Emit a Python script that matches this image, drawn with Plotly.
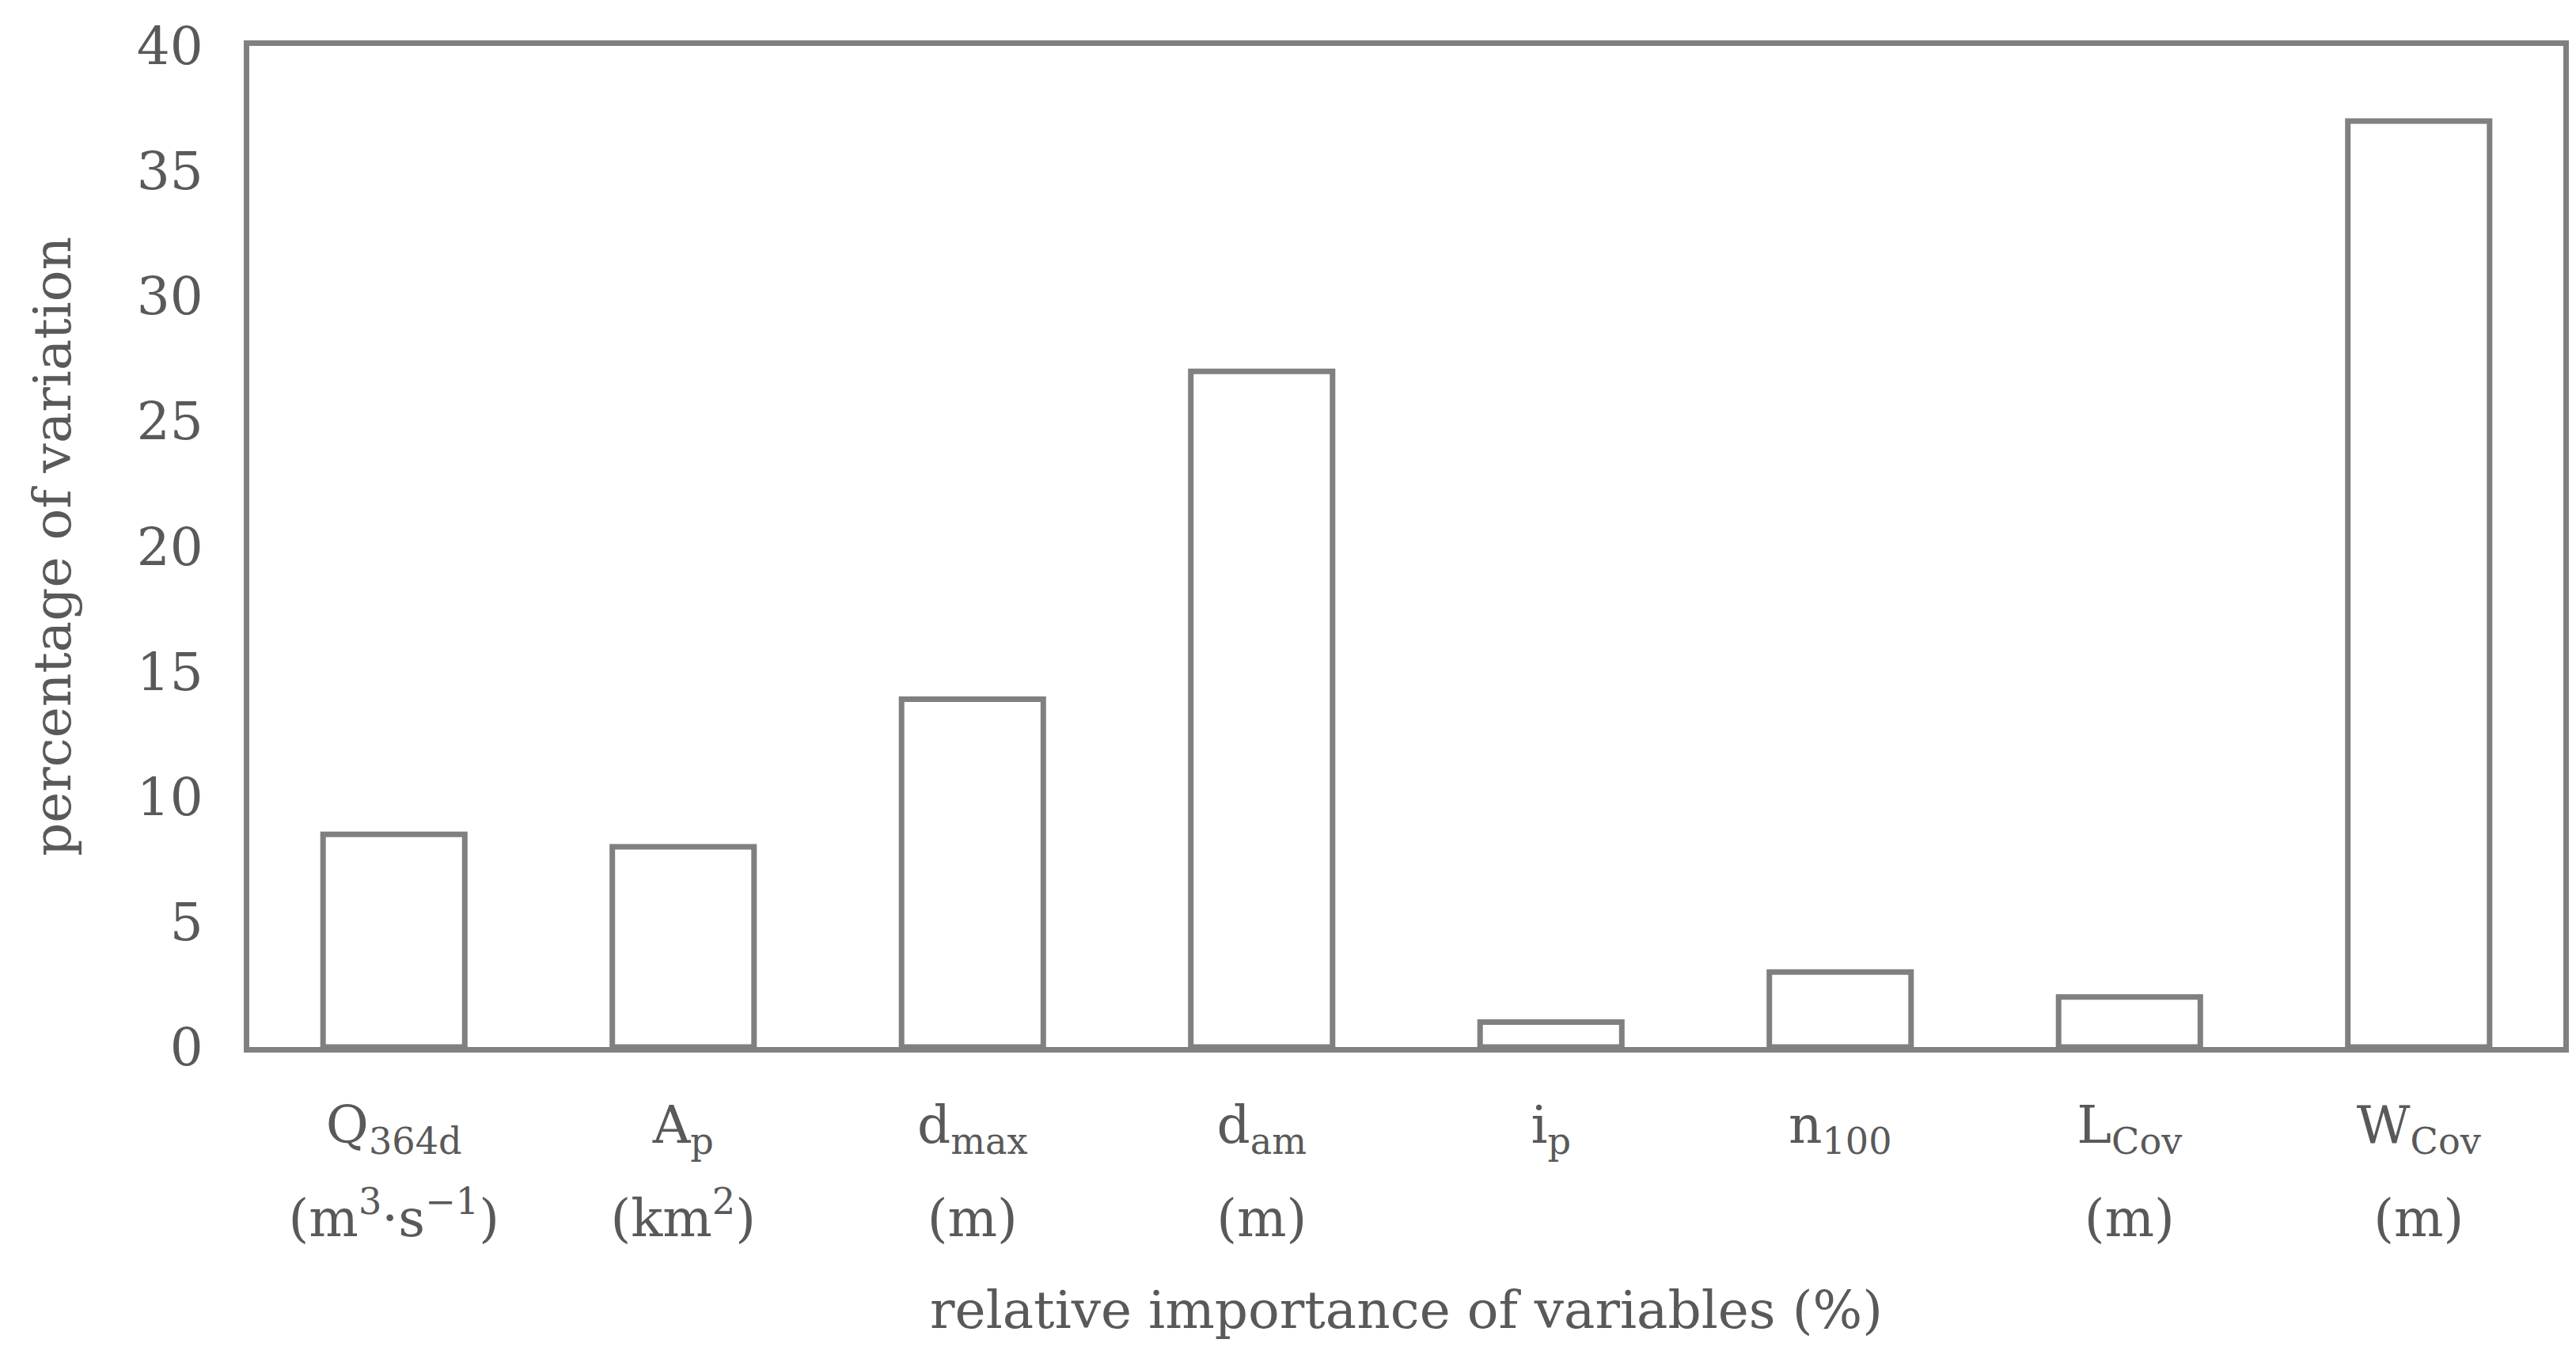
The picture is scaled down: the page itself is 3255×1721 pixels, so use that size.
import plotly.graph_objects as go

# ---- data ----
categories = ["Q364d", "Ap", "dmax", "dam", "ip", "n100", "LCov", "WCov"]
values = [8.5, 8.0, 13.9, 27.0, 1.0, 3.0, 2.0, 37.0]
tick_lines_1 = ["Q<sub>364d</sub>", "A<sub>p</sub>", "d<sub>max</sub>", "d<sub>am</sub>",
                "i<sub>p</sub>", "n<sub>100</sub>", "L<sub>Cov</sub>", "W<sub>Cov</sub>"]
tick_lines_2 = ["(m<sup>3</sup>·s<sup>−1</sup>)", "(km<sup>2</sup>)", "(m)", "(m)",
                "", "", "(m)", "(m)"]
y_ticks = [0, 5, 10, 15, 20, 25, 30, 35, 40]
x_title = "relative importance of variables (%)"
y_title = "percentage of variation"

GREY = "#808080"
TEXT = "#595959"
FONT = "DejaVu Serif"
FS = 66
LW = 7

x_idx = list(range(len(categories)))

fig = go.Figure()
fig.add_trace(
    go.Bar(
        x=x_idx,
        y=values,
        width=0.49,
        marker=dict(color="white", line=dict(color=GREY, width=LW)),
        hovertext=categories,
    )
)
# invisible companion trace so the second (units) label axis is drawn
fig.add_trace(
    go.Scatter(
        x=x_idx,
        y=values,
        xaxis="x2",
        mode="markers",
        marker=dict(opacity=0),
        hoverinfo="skip",
    )
)

# page body has an 8px margin: figure sized/positioned to compensate
fig.update_layout(
    width=3239,
    height=1705,
    margin=dict(l=307, r=8, t=50, b=390),
    paper_bgcolor="white",
    plot_bgcolor="white",
    font=dict(family=FONT, size=FS, color=TEXT),
    showlegend=False,
    bargap=0.51,
)

common_x = dict(
    tickmode="array",
    tickvals=x_idx,
    tickfont=dict(family=FONT, size=FS, color=TEXT),
    range=[-0.5, 7.5],
    showgrid=False,
    zeroline=False,
    ticks="",
    automargin=False,
)

fig.update_layout(
    xaxis=dict(
        **common_x,
        ticktext=tick_lines_1,
        showline=True,
        linecolor=GREY,
        linewidth=LW,
        mirror=True,
        ticklabelstandoff=35,
    ),
    xaxis2=dict(
        **common_x,
        ticktext=tick_lines_2,
        overlaying="x",
        anchor="y",
        side="bottom",
        showline=False,
        ticklabelstandoff=172,
        title=dict(text=x_title, font=dict(family=FONT, size=FS, color=TEXT), standoff=54),
    ),
    yaxis=dict(
        range=[0, 40],
        tickmode="array",
        tickvals=y_ticks,
        ticktext=[str(v) for v in y_ticks],
        tickfont=dict(family=FONT, size=FS, color=TEXT),
        showline=True,
        linecolor=GREY,
        linewidth=LW,
        mirror=True,
        showgrid=False,
        zeroline=False,
        ticks="",
        ticklabelstandoff=38,
        title=dict(text=y_title, font=dict(family=FONT, size=FS, color=TEXT), standoff=64),
        automargin=False,
    ),
)

fig.write_html("out.html")
